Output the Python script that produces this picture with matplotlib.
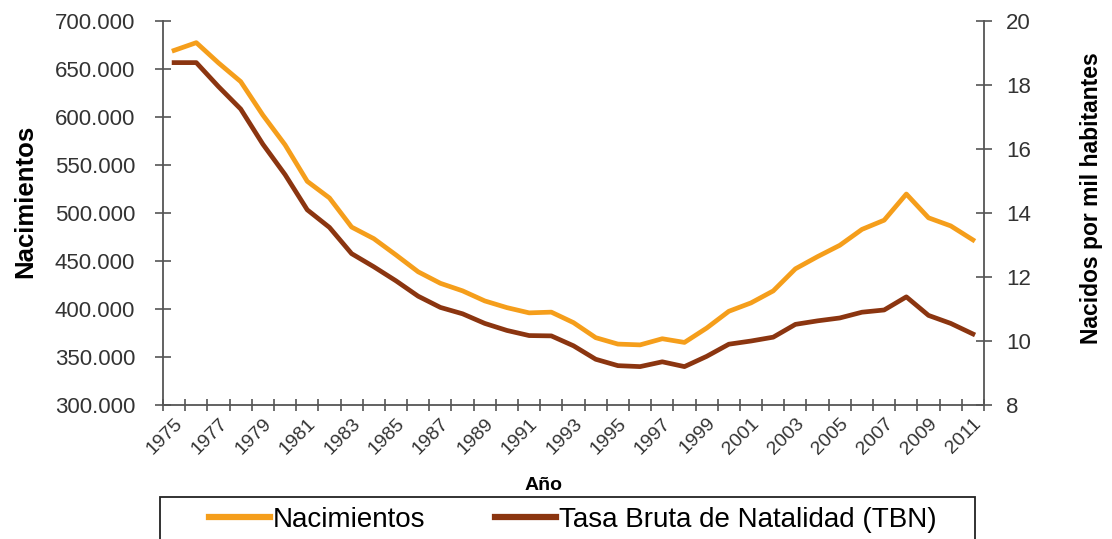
import matplotlib
matplotlib.use('Agg')
import matplotlib.pyplot as plt
import numpy as np
from matplotlib.ticker import FuncFormatter, FixedLocator
from matplotlib.patches import Rectangle

plt.rcParams['font.family'] = ['Liberation Sans', 'DejaVu Sans']

# datos
anios = list(range(1975, 2012))
nacimientos = [669378, 677456, 656357, 636892, 601992, 571018, 533008, 515706, 485352, 473281,
               456298, 438750, 426782, 418919, 408434, 401425, 395989, 396747, 385786, 370148,
               363469, 362626, 369035, 365193, 380130, 397632, 406380, 418846, 441881, 454591,
               466371, 482957, 492527, 519779, 494997, 486575, 471999]
tbn = [18.7, 18.7, 17.95, 17.25, 16.15, 15.2, 14.1, 13.55, 12.73, 12.32,
       11.88, 11.4, 11.05, 10.85, 10.55, 10.33, 10.17, 10.16, 9.85, 9.43,
       9.23, 9.2, 9.35, 9.2, 9.52, 9.9, 10.0, 10.12, 10.52, 10.63,
       10.72, 10.9, 10.97, 11.38, 10.8, 10.55, 10.22]

C_NAC = '#F59E1B'
C_TBN = '#8B3510'
GRIS = '#555555'

fig = plt.figure(figsize=(11.12, 5.39), dpi=100)
ax = fig.add_axes([0.1466, 0.2486, 0.7383, 0.7124])
ax2 = ax.twinx()
x = np.arange(len(anios))

l1, = ax.plot(x, nacimientos, color=C_NAC, lw=3.4, solid_joinstyle='round', label='Nacimientos')
l2, = ax2.plot(x, tbn, color=C_TBN, lw=3.4, solid_joinstyle='round', label='Tasa Bruta de Natalidad (TBN)')

ax.set_xlim(-0.5, len(anios) - 0.5)
ax.set_ylim(300000, 700000)
ax2.set_ylim(8, 20)
ax.set_yticks(np.arange(300000, 700001, 50000))
ax.yaxis.set_major_formatter(FuncFormatter(lambda v, p: f"{int(v):,}".replace(',', '.')))
ax2.set_yticks(np.arange(8, 21, 2))

# ticks del eje x: marcas entre categorías, etiquetas cada 2 años
lab_idx = x[::2]
ax.set_xticks(lab_idx)
ax.set_xticklabels([str(anios[i]) for i in lab_idx], rotation=45, ha='right',
                   rotation_mode='anchor', fontsize=14, color='#333333')
ax.xaxis.set_minor_locator(FixedLocator(np.arange(-0.5, len(anios), 1)))
ax.tick_params(axis='x', which='major', length=0, pad=7)
ax.tick_params(axis='x', which='minor', direction='inout', length=9, width=1.2, color=GRIS)

for a in (ax, ax2):
    a.spines['top'].set_visible(False)
    for s in ['left', 'right', 'bottom']:
        a.spines[s].set_color(GRIS)
        a.spines[s].set_linewidth(1.3)
ax.spines['right'].set_visible(False)
ax2.spines['left'].set_visible(False)
ax2.spines['bottom'].set_visible(False)

ax.tick_params(axis='y', direction='inout', length=12, width=1.2, color=GRIS,
               labelsize=16, labelcolor='#333333', pad=14)
ax2.tick_params(axis='y', direction='inout', length=12, width=1.2, color=GRIS,
                labelsize=16, labelcolor='#333333', pad=10)

ax.set_ylabel('Nacimientos', fontsize=18.5, fontweight='bold')
ax.yaxis.set_label_coords(-0.153, 0.53)
ax2.set_ylabel('Nacidos por mil habitantes', fontsize=16.5, fontweight='bold')
ax2.yaxis.set_label_coords(1.117, 0.54)
ax.set_xlabel('Año', fontsize=14, fontweight='bold')
ax.xaxis.set_label_coords(0.464, -0.187)

# leyenda con marco propio (cortado abajo como en el original)
fig.patches.append(Rectangle((160 / 1112, -0.05), 815 / 1112, 0.05 + 42 / 539,
                             transform=fig.transFigure, fill=False,
                             edgecolor='#222222', linewidth=1.3))
leg = fig.legend(handles=[l1, l2], loc='center', bbox_to_anchor=(0.515, 0.035),
                 ncol=2, frameon=False, fontsize=20, handlelength=2.2,
                 columnspacing=2.5, handletextpad=0.1, borderpad=0, borderaxespad=0)
for h in leg.legend_handles:
    h.set_linewidth(4.5)

fig.savefig('out.png', dpi=100)
